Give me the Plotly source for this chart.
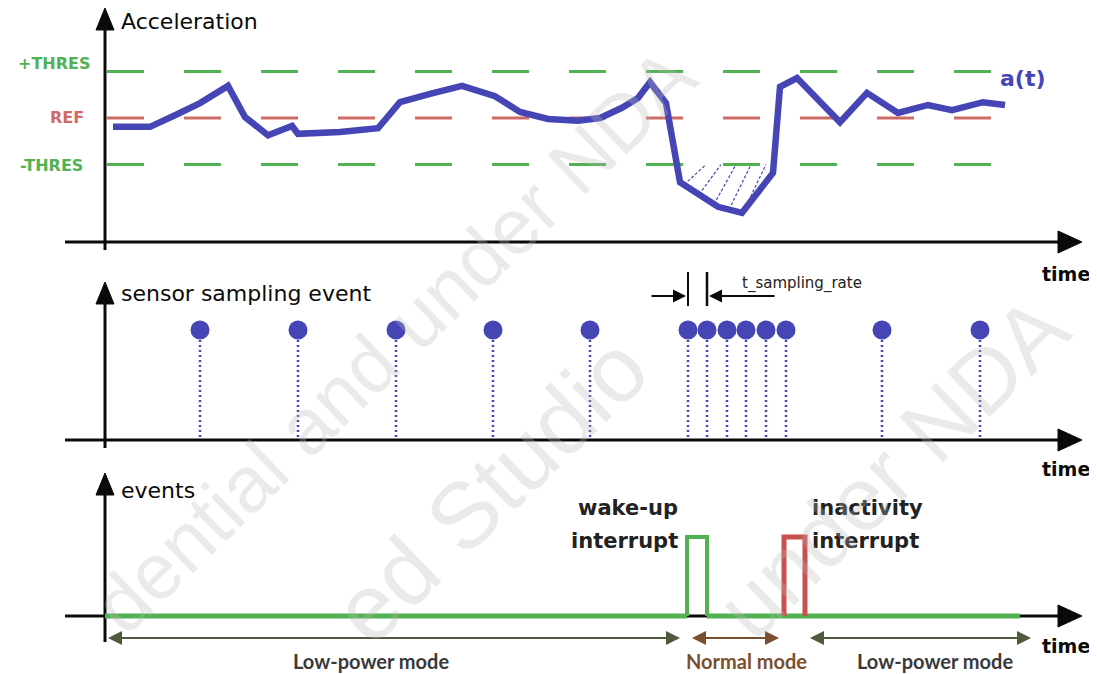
import plotly.graph_objects as go
import numpy as np

W, H = 1097, 674
OFF = 8  # page body margin

# ---------------- data ----------------
# acceleration a(t) (REF = 0, THRES = 1)
t_acc = [113, 150, 175, 200, 228, 245, 268, 292, 298, 340, 378, 400, 430, 462, 495, 520,
         548, 578, 600, 622, 638, 650, 666, 680, 718, 742, 773, 780, 797, 840, 867, 898,
         928, 952, 983, 1005]
acc = [-0.19, -0.19, 0.06, 0.32, 0.69, 0.02, -0.37, -0.17, -0.34, -0.30, -0.22, 0.34,
       0.52, 0.69, 0.47, 0.13, -0.02, -0.06, 0.0, 0.22, 0.43, 0.77, 0.32, -1.38, -1.91,
       -2.04, -1.18, 0.67, 0.86, -0.09, 0.54, 0.11, 0.28, 0.17, 0.34, 0.28]
THRES = 1.0
REF = 0.0
thr_labels = ["+THRES", "REF", "-THRES"]
hatch_start = [684, 699, 714, 729, 744]
hatch_len = 22

# sampling events
sample_t = [200, 298, 396, 493, 590, 688, 707, 727, 746, 766, 786, 882, 980]

# events
wake_t = [687, 707]
inact_t = [784, 805]
event_end = 1020

# modes
modes = ["Low-power mode", "Normal mode", "Low-power mode"]
mode_start = [108, 692, 810]
mode_end = [680, 779, 1031]
mode_label_x = [371, 746, 935]
mode_colors = ["#4d5b3c", "#7b4f2e", "#4d5b3c"]
mode_text_colors = ["#3a3a3a", "#7b4f2e", "#3a3a3a"]

# watermark texts (visible parts in the picture)
wm_texts = ["dential and under NDA", "ed Studio", "under NDA"]
wm_pos = [(394, 340), (490, 490), (892, 468)]
wm_size = [79, 93, 90]

BLUE = "#4545b6"
GREEN = "#52b152"
RED = "#cf6b66"
BLACK = "#0a0a0a"
FONT = "DejaVu Sans"


def P(py):
    return 1 - (py - OFF) / H


def yr(ptop, pbot, f):
    return [f(pbot), f(ptop)]


acc_f = lambda p: (118 - p) / 46.5
smp_f = lambda p: (440 - p) / 110
evt_f = lambda p: (616 - p) / 79

fig = go.Figure()

# threshold lines
for v, c in [(THRES, GREEN), (REF, RED), (-THRES, GREEN)]:
    fig.add_trace(go.Scatter(x=[107, 998], y=[v, v], mode="lines",
                             line=dict(color=c, width=3, dash="37px,40px"),
                             yaxis="y", hoverinfo="skip"))

# hatch
hx, hy = [], []
for s in hatch_start:
    hx += [s, s + hatch_len, None]
    hy += [float(np.interp(s, t_acc, acc)), -THRES, None]
fig.add_trace(go.Scatter(x=hx, y=hy, mode="lines", line=dict(color=BLUE, width=1.2, dash="3px,2px"),
                         yaxis="y", hoverinfo="skip"))

# curve
fig.add_trace(go.Scatter(x=t_acc, y=acc, mode="lines", line=dict(color=BLUE, width=6.5),
                         yaxis="y"))

# sampling stems
sx, sy = [], []
for t in sample_t:
    sx += [t, t, None]
    sy += [1, 0.02, None]
fig.add_trace(go.Scatter(x=sx, y=sy, mode="lines", line=dict(color=BLUE, width=2.5, dash="2px,3px"),
                         yaxis="y2", hoverinfo="skip"))
fig.add_trace(go.Scatter(x=sample_t, y=[1] * len(sample_t), mode="markers",
                         marker=dict(color=BLUE, size=19), yaxis="y2"))

# events
fig.add_trace(go.Scatter(x=[105, wake_t[0], None, wake_t[1], event_end], y=[0, 0, None, 0, 0],
                         mode="lines", line=dict(color=GREEN, width=5), yaxis="y3"))
fig.add_trace(go.Scatter(x=[wake_t[0], wake_t[0], wake_t[1], wake_t[1]], y=[0, 1, 1, 0],
                         mode="lines", line=dict(color=GREEN, width=4), yaxis="y3"))
fig.add_trace(go.Scatter(x=[inact_t[0], inact_t[0], inact_t[1], inact_t[1]], y=[0, 1, 1, 0],
                         mode="lines", line=dict(color="#c9504c", width=5), yaxis="y3"))

shapes = []
annots = []


def line(x0, y0, x1, y1, w=3, color=BLACK):
    shapes.append(dict(type="line", xref="x", yref="paper", x0=x0, x1=x1, y0=P(y0), y1=P(y1),
                       line=dict(color=color, width=w), layer="below"))


def tri(pts, color=BLACK):
    path = "M " + " L ".join(f"{x},{P(y)}" for x, y in pts) + " Z"
    shapes.append(dict(type="path", xref="x", yref="paper", path=path, fillcolor=color,
                       line=dict(color=color, width=1)))


# axes: (vertical top tip, bottom of vertical, horizontal y)
for vtop, vbot, hy_ in [(8, 250, 242), (282, 448, 440), (473, 642, 616)]:
    line(105, vbot, 105, vtop + 18)
    tri([(105, vtop), (96, vtop + 22), (114, vtop + 22)])
    line(65, hy_, 1062, hy_)
    tri([(1082, hy_), (1058, hy_ - 11), (1058, hy_ + 11)])

# t_sampling_rate marker
line(688, 272, 688, 306, w=2)
line(707, 272, 707, 306, w=2.5)
annots.append(dict(x=686, y=P(296), xref="x", yref="paper", ax=-36, ay=0, text="", showarrow=True,
                   arrowhead=2, arrowsize=1.3, arrowwidth=2, arrowcolor=BLACK))
annots.append(dict(x=709, y=P(296), xref="x", yref="paper", ax=67, ay=0, text="", showarrow=True,
                   arrowhead=2, arrowsize=1.3, arrowwidth=2, arrowcolor=BLACK))
annots.append(dict(x=740, y=P(284), xref="x", yref="paper", text="t_sampling_rate", showarrow=False,
                   xanchor="left", yanchor="middle", font=dict(family=FONT, size=15, color="#222")))

# mode arrows
for s, e, c, tc, lab, lx in zip(mode_start, mode_end, mode_colors, mode_text_colors, modes, mode_label_x):
    line(s + 6, 638, e - 6, 638, w=2, color=c)
    for tip, off in [(s, 24), (e, -24)]:
        annots.append(dict(x=tip, y=P(638), xref="x", yref="paper", ax=off, ay=0, text="",
                           showarrow=True, arrowhead=2, arrowsize=1.4, arrowwidth=2, arrowcolor=c,
                           standoff=0))
    annots.append(dict(x=lx, y=P(661), xref="x", yref="paper", text=f"<b>{lab}</b>", showarrow=False,
                       xanchor="center", yanchor="middle",
                       font=dict(family="Lato", size=20, color=tc)))


def text(x, y, s, size=19, color=BLACK, anchor="left", bold=False):
    annots.append(dict(x=x, y=P(y), xref="x", yref="paper", text=f"<b>{s}</b>" if bold else s,
                       showarrow=False, xanchor=anchor, yanchor="middle",
                       font=dict(family=FONT, size=size, color=color)))


text(119, 21, "Acceleration", size=22)
text(119, 293, "sensor sampling event", size=22)
text(119, 490, "events", size=22)
for yy in [274, 469, 646]:
    text(1066, yy, "time", size=19, bold=True, anchor="center")
text(92, 64, thr_labels[0], size=16, color=GREEN, bold=True, anchor="right")
text(86, 118, thr_labels[1], size=16, color=RED, bold=True, anchor="right")
text(85, 165, thr_labels[2], size=16, color=GREEN, bold=True, anchor="right")
text(998, 78, "a(t)", size=22, color=BLUE, bold=True)
text(680, 508, "wake-up", size=21, bold=True, anchor="right", color="#222")
text(680, 541, "interrupt", size=21, bold=True, anchor="right", color="#222")
text(810, 508, "inactivity", size=21, bold=True, color="#222")
text(810, 541, "interrupt", size=21, bold=True, color="#222")

# watermark
for s, (wx, wy), sz in zip(wm_texts, wm_pos, wm_size):
    annots.append(dict(x=wx, y=P(wy), xref="x", yref="paper", text=s, showarrow=False,
                       xanchor="center", yanchor="middle", textangle=-44,
                       font=dict(family="Liberation Sans", size=sz, color="rgba(185,185,185,0.3)")))

ax_common = dict(visible=False, fixedrange=True)
fig.update_layout(
    width=W, height=H, margin=dict(l=0, r=0, t=0, b=0),
    paper_bgcolor="white", plot_bgcolor="rgba(0,0,0,0)", showlegend=False,
    xaxis=dict(range=[OFF, W + OFF], domain=[0, 1], **ax_common),
    yaxis=dict(domain=[P(252), P(OFF)], range=yr(OFF, 252, acc_f), **ax_common),
    yaxis2=dict(domain=[P(452), P(262)], range=yr(262, 452, smp_f), anchor="x", **ax_common),
    yaxis3=dict(domain=[P(625), P(470)], range=yr(470, 625, evt_f), anchor="x", **ax_common),
    shapes=shapes, annotations=annots,
)

fig.write_html("out.html")
